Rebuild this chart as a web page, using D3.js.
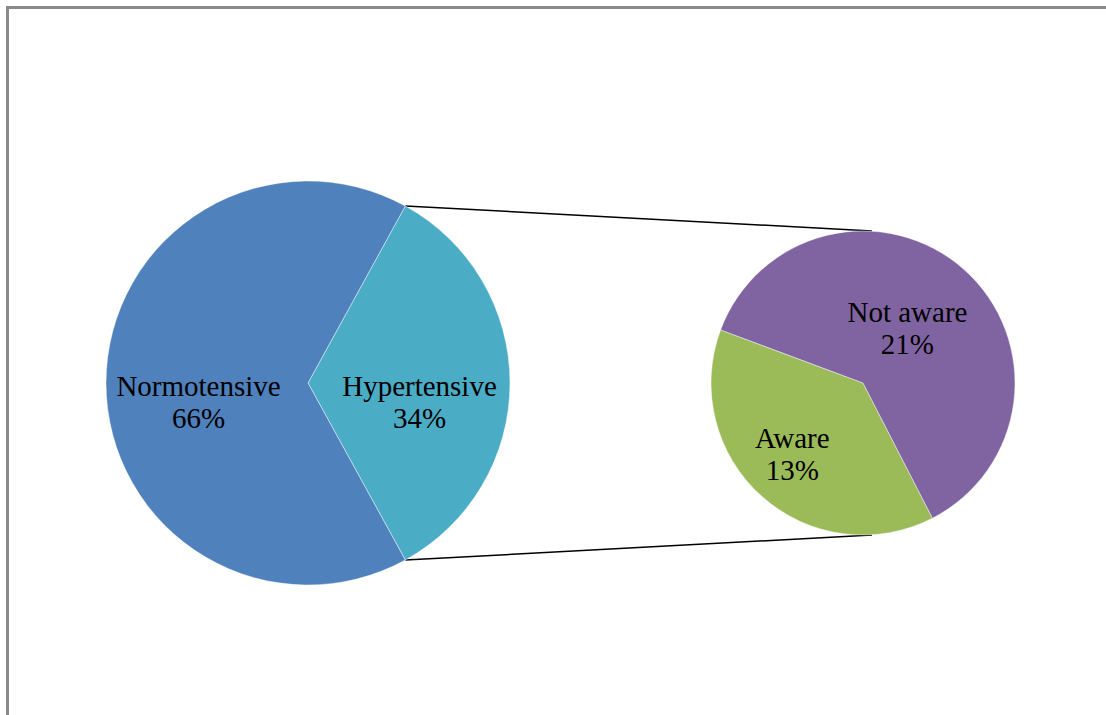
<!DOCTYPE html>
<html>
<head>
<meta charset="utf-8">
<script src="https://cdn.jsdelivr.net/npm/d3@7"></script>
<style>
  html, body { margin: 0; padding: 0; background: #fff; }
  svg { display: block; }
</style>
</head>
<body>
<svg id="chart" width="1106" height="715"></svg>
<script>
// Primary pie: blood pressure status of the whole sample
const primaryCategories = ["Hypertensive", "Normotensive"];
const primaryValues = [34, 66];
const primaryColors = ["#4BACC6", "#4F81BD"];

// Secondary pie: awareness among the hypertensive group
const secondaryCategories = ["Aware", "Not aware"];
const secondaryValues = [13, 21];
const secondaryColors = ["#9BBB59", "#8064A2"];

const svg = d3.select("#chart");
const W = 1106, H = 715;

// chart frame (right and bottom edges run past the canvas)
svg.append("rect")
  .attr("x", 7.5).attr("y", 7.5)
  .attr("width", W + 20).attr("height", H + 20)
  .attr("fill", "#fff")
  .attr("stroke", "#8A8A8A")
  .attr("stroke-width", 3);

const deg = Math.PI / 180;
const total1 = d3.sum(primaryValues);
const total2 = d3.sum(secondaryValues);

// geometry
const p1 = { cx: 308, cy: 383, r: 202 };
const p2 = { cx: 863, cy: 383, r: 152 };

// the split-off slice is centred on the 3 o'clock direction
const split = primaryValues[0] / total1 * 2 * Math.PI;
const start1 = Math.PI / 2 - split / 2;
const pie1 = d3.pie().sort(null).value(d => d)
  .startAngle(start1).endAngle(start1 + 2 * Math.PI);
const pie2 = d3.pie().sort(null).value(d => d)
  .startAngle(152.8 * deg).endAngle(152.8 * deg + 2 * Math.PI);

const arcs1 = pie1(primaryValues);
const arcs2 = pie2(secondaryValues);

// connector lines between the split slice and the secondary pie
const a = arcs1[0];
const edgePt = ang => [p1.cx + p1.r * Math.sin(ang), p1.cy - p1.r * Math.cos(ang)];
const top1 = edgePt(a.startAngle), bot1 = edgePt(a.endAngle);
const connectors = [
  [top1, [p2.cx + 9, p2.cy - p2.r]],
  [bot1, [p2.cx + 9, p2.cy + p2.r]]
];
svg.append("g").selectAll("line").data(connectors).join("line")
  .attr("x1", d => d[0][0]).attr("y1", d => d[0][1])
  .attr("x2", d => d[1][0]).attr("y2", d => d[1][1])
  .attr("stroke", "#000").attr("stroke-width", 1.5);

function drawPie(p, arcs, colors) {
  const arc = d3.arc().innerRadius(0).outerRadius(p.r);
  const g = svg.append("g").attr("transform", `translate(${p.cx},${p.cy})`);
  g.selectAll("path").data(arcs).join("path")
    .attr("d", arc)
    .attr("fill", (d, i) => colors[i])
    .attr("stroke", "rgba(255,255,255,0.6)")
    .attr("stroke-width", 0.75);
  return g;
}
const g1 = drawPie(p1, arcs1, primaryColors);
const g2 = drawPie(p2, arcs2, secondaryColors);

// data labels: name on the first line, share of the whole sample on the second
const fmt = v => Math.round(v / total1 * 100) + "%";
function drawLabels(g, p, arcs, names, place) {
  arcs.forEach((d, i) => {
    const mid = (d.startAngle + d.endAngle) / 2;
    const rr = p.r * place[i][0];
    const x = rr * Math.sin(mid);
    const y = -rr * Math.cos(mid) + place[i][1];
    const t = g.append("text")
      .attr("x", x).attr("y", y)
      .attr("text-anchor", "middle")
      .attr("font-family", "'Liberation Serif', 'Times New Roman', serif")
      .attr("font-size", 29)
      .attr("fill", "#000");
    t.append("tspan").attr("x", x).attr("dy", 0).text(names[i]);
    t.append("tspan").attr("x", x).attr("dy", 32).text(fmt(d.data));
  });
}
// [radius fraction, baseline shift]
drawLabels(g1, p1, arcs1, primaryCategories, [[0.552, 13], [0.542, 13]]);
drawLabels(g2, p2, arcs2, secondaryCategories, [[0.70, -14.5], [0.44, -11]]);
</script>
</body>
</html>
